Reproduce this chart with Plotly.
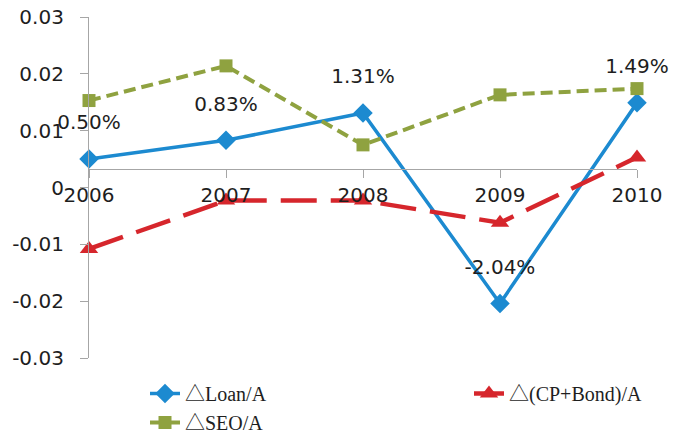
import plotly.graph_objects as go

YEARS = ["2006", "2007", "2008", "2009", "2010"]
LOAN = [0.0050, 0.0083, 0.0131, -0.0204, 0.0149]
CP_BOND = [-0.0108, -0.0023, -0.0023, -0.0062, 0.0053]
SEO = [0.0153, 0.0214, 0.0075, 0.0163, 0.0174]
LOAN_LABELS = ["0.50%", "0.83%", "1.31%", "-2.04%", "1.49%"]
Y_TICKS = [-0.03, -0.02, -0.01, 0, 0.01, 0.02, 0.03]
Y_TICK_LABELS = ["-0.03", "-0.02", "-0.01", "0", "0.01", "0.02", "0.03"]
NAMES = ["△Loan/A", "△(CP+Bond)/A", "△SEO/A"]
X_AXIS_CROSS = 0.0032
Y_MIN, Y_MAX = -0.03, 0.03

BLUE = "#1C8AD0"
RED = "#D6262C"
GREEN = "#8FA240"
AXIS = "#A6A6A6"
TXT = "#1E1E1E"
SANS = "DejaVu Sans"
SERIF = "Liberation Serif, Noto Sans CJK SC"
W, H = 673, 436

fig = go.Figure()
fig.add_trace(go.Scatter(
    x=YEARS, y=LOAN, name=NAMES[0], mode="lines+markers", legend="legend",
    line=dict(color=BLUE, width=3.5),
    marker=dict(symbol="diamond", size=15, color=BLUE),
    cliponaxis=False,
))
fig.add_trace(go.Scatter(
    x=YEARS, y=CP_BOND, name=NAMES[1], mode="lines+markers", legend="legend2",
    line=dict(color=RED, width=4.5, dash="36px,14px"),
    marker=dict(symbol="triangle-up", size=16, color=RED),
    cliponaxis=False,
))
fig.add_trace(go.Scatter(
    x=YEARS, y=SEO, name=NAMES[2], mode="lines+markers", legend="legend",
    line=dict(color=GREEN, width=4, dash="12px,6px"),
    marker=dict(symbol="square", size=13, color=GREEN),
    cliponaxis=False,
))
# data labels for the Loan series (transparent markers set the label offset)
fig.add_trace(go.Scatter(
    x=YEARS, y=LOAN, mode="markers+text", showlegend=False, hoverinfo="skip",
    text=LOAN_LABELS, textposition="top center",
    textfont=dict(family=SANS, size=20, color=TXT),
    marker=dict(size=38, color="rgba(0,0,0,0)"),
    cliponaxis=False,
))

cross_frac = (X_AXIS_CROSS - Y_MIN) / (Y_MAX - Y_MIN)

legend_common = dict(
    orientation="v", xref="container", yref="container",
    xanchor="left", yanchor="top", traceorder="normal",
    font=dict(family=SERIF, size=20, color=TXT),
    bgcolor="rgba(0,0,0,0)", tracegroupgap=0,
)

fig.update_layout(
    width=W, height=H,
    margin=dict(l=89, r=36, t=17, b=78, pad=0, autoexpand=False),
    paper_bgcolor="white", plot_bgcolor="white",
    showlegend=True,
    legend=dict(x=145 / W, y=1 - 374 / H, **legend_common),
    legend2=dict(x=469 / W, y=1 - 374 / H, **legend_common),
    xaxis=dict(
        type="category", range=[0, 4], anchor="free", position=cross_frac,
        showline=True, linecolor=AXIS, linewidth=1.2,
        ticks="outside", ticklen=8, tickcolor=AXIS, tickwidth=1.2,
        showgrid=False, zeroline=False,
        tickfont=dict(family=SANS, size=20, color=TXT),
    ),
    yaxis=dict(
        range=[Y_MIN, Y_MAX], tickvals=Y_TICKS, ticktext=Y_TICK_LABELS,
        showline=True, linecolor=AXIS, linewidth=1.2,
        ticks="outside", ticklen=8, tickcolor=AXIS, tickwidth=1.2,
        showgrid=False, zeroline=False,
        tickfont=dict(family=SANS, size=20, color=TXT),
        ticklabelstandoff=12,
    ),
)

fig.write_html("out.html")
